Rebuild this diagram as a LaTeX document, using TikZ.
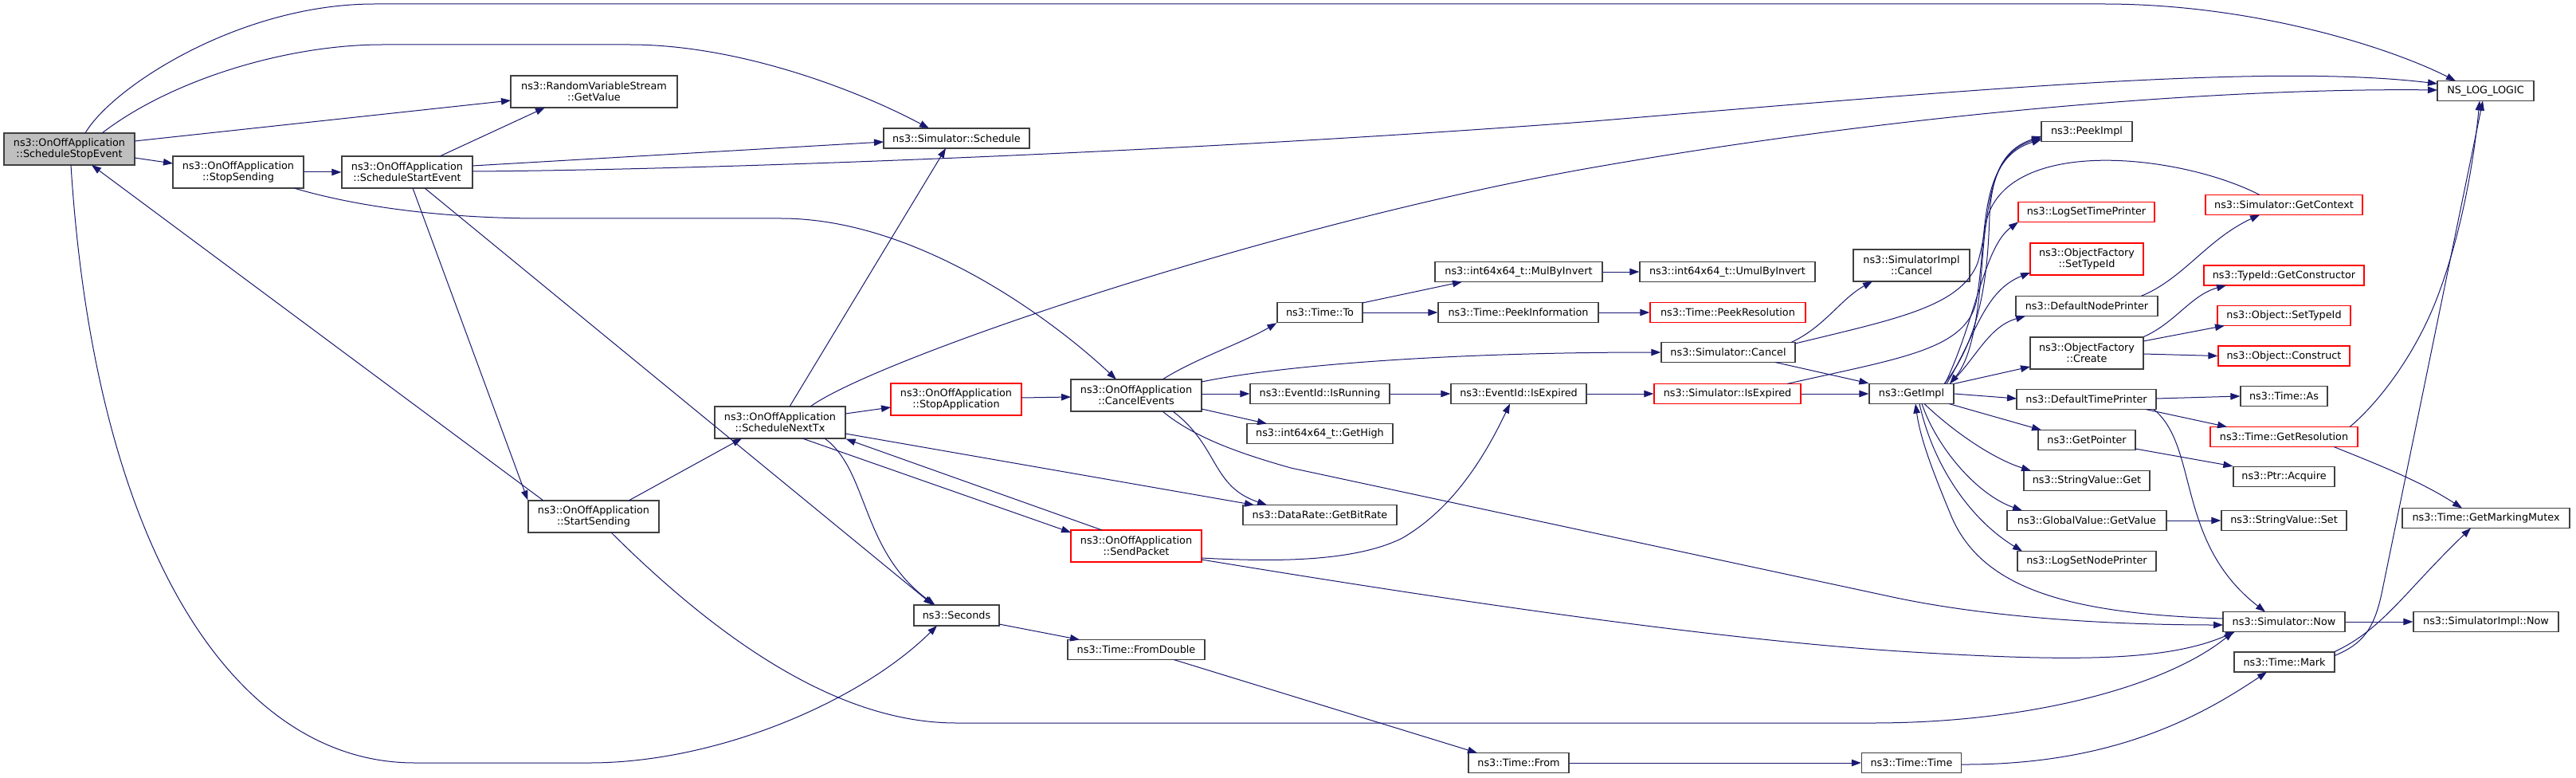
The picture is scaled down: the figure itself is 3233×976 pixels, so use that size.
\documentclass[tikz,border=0pt]{standalone}
\usepackage{fontspec}
\setmainfont{DejaVu Sans}
\usetikzlibrary{arrows.meta,calc}
\definecolor{edgec}{HTML}{191970}
\definecolor{ndb}{HTML}{404040}
\definecolor{rootf}{HTML}{BFBFBF}
\definecolor{ndred}{HTML}{FF0000}
\newcommand{\nfont}{\fontsize{12.8}{14}\selectfont}
\tikzset{
  nd/.style={draw=ndb, line width=1.3pt, fill=white, inner sep=0pt, align=center, font=\nfont, text=black},
  rd/.style={nd, draw=ndred},
  rt/.style={nd, fill=rootf},
  e/.style={draw=edgec, line width=1pt, -{Triangle[length=12pt,width=8.5pt]}, color=edgec},
}
\begin{document}
\begin{tikzpicture}[x=1pt,y=-1pt]
\fill[white] (0,0) rectangle (3233,976);
\useasboundingbox (0,0) rectangle (3233,976);
% nodes
\node[rt, minimum width=164pt, minimum height=40pt] (sse) at (87,187) {ns3::OnOffApplication\\::ScheduleStopEvent};
\node[nd, minimum width=164pt, minimum height=40pt] (stops) at (299,216) {ns3::OnOffApplication\\::StopSending};
\node[nd, minimum width=164pt, minimum height=40pt] (sse2) at (511,216) {ns3::OnOffApplication\\::ScheduleStartEvent};
\node[nd, minimum width=209pt, minimum height=40pt] (rvs) at (745.5,115) {ns3::RandomVariableStream\\::GetValue};
\node[nd, minimum width=183pt, minimum height=25pt] (sched) at (1200.5,173.5) {ns3::Simulator::Schedule};
\node[nd, minimum width=164pt, minimum height=40pt] (ssend) at (745,648) {ns3::OnOffApplication\\::StartSending};
\node[nd, minimum width=164pt, minimum height=40pt] (snt) at (979,530) {ns3::OnOffApplication\\::ScheduleNextTx};
\node[rd, minimum width=164pt, minimum height=40pt] (stopapp) at (1200,501) {ns3::OnOffApplication\\::StopApplication};
\node[nd, minimum width=164pt, minimum height=40pt] (cancelev) at (1426,496) {ns3::OnOffApplication\\::CancelEvents};
\node[rd, minimum width=164pt, minimum height=40pt] (sendp) at (1426,685) {ns3::OnOffApplication\\::SendPacket};
\node[nd, minimum width=107pt, minimum height=26pt] (secs) at (1200.5,772) {ns3::Seconds};
\node[nd, minimum width=172pt, minimum height=25pt] (fromd) at (1426,815) {ns3::Time::FromDouble};
\node[nd, minimum width=175pt, minimum height=25pt] (isrun) at (1656.5,494) {ns3::EventId::IsRunning};
\node[nd, minimum width=183pt, minimum height=25pt] (gethigh) at (1656.5,544) {ns3::int64x64\_t::GetHigh};
\node[nd, minimum width=193pt, minimum height=25pt] (bitrate) at (1656.5,646) {ns3::DataRate::GetBitRate};
\node[nd, minimum width=107pt, minimum height=25pt] (timeto) at (1656.5,392) {ns3::Time::To};
\node[nd, minimum width=210pt, minimum height=25pt] (mul) at (1906,341) {ns3::int64x64\_t::MulByInvert};
\node[nd, minimum width=220pt, minimum height=25pt] (umul) at (2168,341) {ns3::int64x64\_t::UmulByInvert};
\node[nd, minimum width=201pt, minimum height=25pt] (peekinfo) at (1905.5,392) {ns3::Time::PeekInformation};
\node[rd, minimum width=195pt, minimum height=25pt] (peekres) at (2168.5,392) {ns3::Time::PeekResolution};
\node[nd, minimum width=168pt, minimum height=25pt] (simcancel) at (2169,442) {ns3::Simulator::Cancel};
\node[nd, minimum width=146pt, minimum height=40pt] (implcancel) at (2399,333) {ns3::SimulatorImpl\\::Cancel};
\node[nd, minimum width=170pt, minimum height=25pt] (isexp) at (1906,494) {ns3::EventId::IsExpired};
\node[rd, minimum width=184pt, minimum height=25pt] (simisexp) at (2168,494) {ns3::Simulator::IsExpired};
\node[nd, minimum width=106pt, minimum height=25pt] (getimpl) at (2399,494) {ns3::GetImpl};
\node[nd, minimum width=126pt, minimum height=25pt] (tfrom) at (1906,957) {ns3::Time::From};
\node[nd, minimum width=125pt, minimum height=25pt] (ttime) at (2399,957) {ns3::Time::Time};
\node[nd, minimum width=121pt, minimum height=25pt] (nslog) at (3119.5,114) {NS\_LOG\_LOGIC};
\node[nd, minimum width=114pt, minimum height=25pt] (peekimpl) at (2619,165) {ns3::PeekImpl};
\node[rd, minimum width=171pt, minimum height=25pt] (lstp) at (2618.5,266) {ns3::LogSetTimePrinter};
\node[rd, minimum width=197pt, minimum height=25pt] (getctx) at (2866.5,257) {ns3::Simulator::GetContext};
\node[rd, minimum width=142pt, minimum height=40pt] (ofsettype) at (2619,325) {ns3::ObjectFactory\\::SetTypeId};
\node[rd, minimum width=201pt, minimum height=25pt] (getctor) at (2866.5,345.5) {ns3::TypeId::GetConstructor};
\node[nd, minimum width=178pt, minimum height=25pt] (dnp) at (2619,384) {ns3::DefaultNodePrinter};
\node[rd, minimum width=167pt, minimum height=25pt] (objsettype) at (2866.5,396) {ns3::Object::SetTypeId};
\node[nd, minimum width=142pt, minimum height=40pt] (ofcreate) at (2619,443) {ns3::ObjectFactory\\::Create};
\node[rd, minimum width=165pt, minimum height=25pt] (construct) at (2866.5,446.5) {ns3::Object::Construct};
\node[nd, minimum width=175pt, minimum height=25pt] (dtp) at (2618.5,501) {ns3::DefaultTimePrinter};
\node[nd, minimum width=109pt, minimum height=25pt] (timeas) at (2866.5,497) {ns3::Time::As};
\node[nd, minimum width=122pt, minimum height=25pt] (getptr) at (2619,552) {ns3::GetPointer};
\node[rd, minimum width=185pt, minimum height=25pt] (getres) at (2866.5,548) {ns3::Time::GetResolution};
\node[nd, minimum width=158pt, minimum height=25pt] (svget) at (2619,603) {ns3::StringValue::Get};
\node[nd, minimum width=127pt, minimum height=25pt] (acquire) at (2866.5,598) {ns3::Ptr::Acquire};
\node[nd, minimum width=210pt, minimum height=25pt] (mutex) at (3120,650) {ns3::Time::GetMarkingMutex};
\node[nd, minimum width=200pt, minimum height=25pt] (gvget) at (2619,653) {ns3::GlobalValue::GetValue};
\node[nd, minimum width=157pt, minimum height=25pt] (svset) at (2866.5,653) {ns3::StringValue::Set};
\node[nd, minimum width=174pt, minimum height=25pt] (lsnp) at (2619,704) {ns3::LogSetNodePrinter};
\node[nd, minimum width=153pt, minimum height=25pt] (simnow) at (2866.5,780) {ns3::Simulator::Now};
\node[nd, minimum width=182pt, minimum height=25pt] (implnow) at (3120,780) {ns3::SimulatorImpl::Now};
\node[nd, minimum width=126pt, minimum height=25pt] (mark) at (2867,830.5) {ns3::Time::Mark};
% edges
\draw[e] ($(sse)+(20,-20)$) .. controls (140,110) and (300,5) .. (470,5) -- (2640,5) .. controls (2830,5) and (3000,60) .. ($(nslog)+(-37.5,-12.5)$);
\draw[e] ($(sse)+(41,-20)$) .. controls (215,100) and (360,56) .. (480,56) -- (790,56) .. controls (930,56) and (1080,115) .. ($(sched)+(-34.5,-12.5)$);
\draw[e] ($(sse)+(82,-10)$) -- ($(rvs)+(-104.5,11)$);
\draw[e] ($(sse)+(82,11)$) -- ($(stops)+(-82,-11)$);
\draw[e] ($(sse)+(2,20)$) .. controls (120,700) and (300,957) .. (520,957) -- (740,957) .. controls (900,957) and (1080,880) .. ($(secs)+(-24.5,13)$);
\draw[e] (stops.east) -- (sse2.west);
\draw[e] ($(stops)+(70,20)$) .. controls (450,260) and (560,274) .. (680,274) -- (980,274) .. controls (1150,274) and (1320,400) .. ($(cancelev)+(-25,-20)$);
\draw[e] ($(sse2)+(41,-20)$) -- ($(rvs)+(-61.5,20)$);
\draw[e] ($(sse2)+(82,-8)$) -- ($(sched)+(-91.5,4.5)$);
\draw[e] ($(sse2)+(82,-1)$) .. controls (900,213) and (1500,190) .. (2000,152) .. controls (2500,110) and (2850,80) .. ($(nslog)+(-60.5,-9)$);
\draw[e] ($(sse2)+(7,20)$) -- (ssend.north west);
\draw[e] ($(sse2)+(22,20)$) -- ($(secs)+(-29.5,-13)$);
\draw[e] ($(snt)+(12,-20)$) -- ($(sched)+(-13.5,12.5)$);
\draw[e] ($(snt)+(38,-20)$) .. controls (1100,450) and (1600,280) .. (2000,210) .. controls (2400,140) and (2800,110) .. ($(nslog)+(-60.5,-1)$);
\draw[e] ($(snt)+(82,-11)$) -- ($(stopapp)+(-82,10)$);
\draw[e] ($(snt)+(82,14)$) -- ($(bitrate)+(-82.5,-12.5)$);
\draw[e] ($(snt)+(28,20)$) -- ($(sendp)+(-82,-17)$);
\draw[e] ($(sendp)+(-43,-20)$) -- (snt.south east);
\draw[e] ($(snt)+(56,20)$) .. controls (1090,590) and (1080,690) .. ($(secs)+(-27,-13)$);
\draw[e] ($(ssend)+(-63,-20)$) -- ($(sse)+(28,20)$);
\draw[e] ($(ssend)+(44,-20)$) -- ($(snt)+(-48,20)$);
\draw[e] ($(ssend)+(22,20)$) .. controls (900,800) and (1050,907) .. (1200,907) -- (2350,907) .. controls (2550,907) and (2720,860) .. ($(simnow)+(-63.5,12.5)$);
\draw[e] ($(stopapp)+(82,-2)$) -- ($(cancelev)+(-82,2)$);
\draw[e] ($(cancelev)+(82,-2)$) -- (isrun.west);
\draw[e] ($(cancelev)+(82,17)$) -- ($(gethigh)+(-66.5,-12.5)$);
\draw[e] ($(cancelev)+(46,20)$) .. controls (1530,560) and (1520,610) .. ($(bitrate)+(-66.5,-12.5)$);
\draw[e] ($(cancelev)+(33,20)$) .. controls (1500,550) and (1560,570) .. (1620,587) -- (2380,750) .. controls (2500,775) and (2650,784) .. ($(simnow)+(-76.5,4)$);
\draw[e] ($(cancelev)+(33,-20)$) .. controls (1500,450) and (1560,430) .. (timeto.south west);
\draw[e] ($(cancelev)+(82,-17)$) .. controls (1600,460) and (1800,442) .. (simcancel.west);
\draw[e] (timeto.east) -- (peekinfo.west);
\draw[e] ($(timeto)+(53.5,-12)$) -- ($(mul)+(-71,12.5)$);
\draw[e] (mul.east) -- (umul.west);
\draw[e] (peekinfo.east) -- (peekres.west);
\draw[e] ($(simcancel)+(79,-12.5)$) .. controls (2290,410) and (2310,375) .. ($(implcancel)+(-49,20)$);
\draw[e] ($(simcancel)+(84,-11)$) .. controls (2380,400) and (2460,385) .. (2482,330) .. controls (2500,270) and (2490,195) .. ($(peekimpl)+(-57,8)$);
\draw[e] ($(simisexp)+(75,-12.5)$) .. controls (2380,450) and (2465,440) .. (2480,380) .. controls (2495,300) and (2480,200) .. ($(peekimpl)+(-57,10)$);
\draw[e] ($(getimpl)+(41,-12.5)$) .. controls (2490,420) and (2495,330) .. (2497,270) .. controls (2500,210) and (2520,185) .. ($(peekimpl)+(-57,6)$);
\draw[e] ($(getctx)+(-30.5,-12.5)$) .. controls (2740,195) and (2530,170) .. (2495,270) .. controls (2485,300) and (2490,430) .. ($(getimpl)+(48,-12.5)$);
\draw[e] ($(simcancel)+(59,12.5)$) -- (getimpl.north west);
\draw[e] (simisexp.east) -- (getimpl.west);
\draw[e] (isrun.east) -- (isexp.west);
\draw[e] (isexp.east) -- (simisexp.west);
\draw[e] ($(sendp)+(82,15)$) .. controls (1600,705) and (1700,705) .. (1760,675) .. controls (1820,640) and (1860,580) .. ($(isexp)+(-11,12.5)$);
\draw[e] ($(sendp)+(82,17)$) .. controls (1800,750) and (2150,803) .. (2400,818) .. controls (2600,830) and (2720,830) .. ($(simnow)+(-61.5,12.5)$);
\draw[e] ($(secs)+(53.5,11)$) -- ($(fromd)+(-71,-12.5)$);
\draw[e] ($(fromd)+(47,12.5)$) -- ($(tfrom)+(-52,-12.5)$);
\draw[e] (tfrom.east) -- (ttime.west);
\draw[e] ($(ttime)+(62.5,2)$) .. controls (2650,960) and (2760,900) .. ($(mark)+(-22,12.5)$);
\draw[e] ($(mark)+(63,-8)$) .. controls (2965,808) and (2980,790) .. (2990,740) -- ($(nslog)+(-3.5,12.5)$);
\draw[e] ($(mark)+(63,-13)$) .. controls (2990,790) and (3020,740) .. ($(mutex)+(-19,12.5)$);
\draw[e] ($(getres)+(82.5,-12.5)$) .. controls (2980,510) and (3030,450) .. (3060,370) .. controls (3090,290) and (3105,200) .. ($(nslog)+(-7.5,12.5)$);
\draw[e] ($(getres)+(62.5,12.5)$) .. controls (2990,585) and (3040,605) .. ($(mutex)+(-30,-12.5)$);
\draw[e] (simnow.east) -- (implnow.west);
\draw[e] ($(simnow)+(-76.5,-4)$) .. controls (2600,770) and (2490,740) .. (2450,650) .. controls (2425,590) and (2410,550) .. ($(getimpl)+(5,12.5)$);
\draw[e] ($(dtp)+(84.5,12.5)$) .. controls (2760,560) and (2730,680) .. ($(simnow)+(-23.5,-12.5)$);
\draw[e] ($(dtp)+(87.5,-1)$) -- (timeas.west);
\draw[e] ($(dtp)+(74.5,12.5)$) -- ($(getres)+(-71.5,-12.5)$);
\draw[e] ($(getptr)+(61,11)$) -- (acquire.north west);
\draw[e] (gvget.east) -- (svset.west);
\draw[e] ($(dnp)+(68,-12.5)$) .. controls (2740,350) and (2770,300) .. ($(getctx)+(-30.5,12.5)$);
\draw[e] (ofcreate.north east) .. controls (2730,405) and (2750,370) .. ($(getctor)+(-72.5,12.5)$);
\draw[e] ($(ofcreate)+(71,-15)$) -- ($(objsettype)+(-74.5,12.5)$);
\draw[e] ($(ofcreate)+(71,1)$) -- (construct.west);
\draw[e] (getimpl.east) -- ($(dtp)+(-87.5,-1)$);
\draw[e] ($(getimpl)+(47,12.5)$) -- ($(getptr)+(-57,-12.5)$);
\draw[e] ($(getimpl)+(16,12.5)$) .. controls (2450,540) and (2500,575) .. ($(svget)+(-70,-12.5)$);
\draw[e] ($(getimpl)+(13,12.5)$) .. controls (2430,560) and (2480,620) .. ($(gvget)+(-81,-12.5)$);
\draw[e] ($(getimpl)+(10,12.5)$) .. controls (2425,580) and (2470,650) .. ($(lsnp)+(-81,-12.5)$);
\draw[e] ($(getimpl)+(53,-12.5)$) -- ($(ofcreate)+(-71,17)$);
\draw[e] ($(getimpl)+(48,-12.5)$) .. controls (2480,450) and (2495,410) .. ($(dnp)+(-77,12.5)$);
\draw[e] ($(getimpl)+(44,-12.5)$) .. controls (2480,420) and (2490,365) .. ($(ofsettype)+(-71,17)$);
\draw[e] ($(getimpl)+(42,-12.5)$) .. controls (2480,400) and (2490,310) .. ($(lstp)+(-85.5,12.5)$);
\end{tikzpicture}
\end{document}
